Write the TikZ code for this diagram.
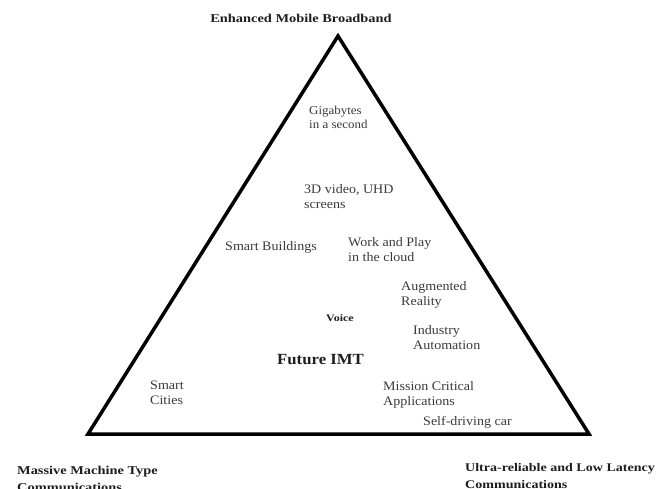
\documentclass[tikz,border=0pt]{standalone}
\usepackage{fontspec}
\setmainfont{Liberation Serif}[FakeStretch=1.08]
\newfontfamily\capfont{Liberation Serif}[FakeStretch=1.2]
\definecolor{txtgray}{HTML}{3A3A3A}
\definecolor{capink}{HTML}{1E1E1E}
\begin{document}
\begin{tikzpicture}[x=1pt,y=-1pt,
  lbl/.style={anchor=west,inner sep=0pt,align=left,text=txtgray,
              font=\fontsize{13}{15}\selectfont},
  cornerlbl/.style={anchor=west,inner sep=0pt,align=left,text=capink,
              font=\capfont\bfseries\fontsize{12}{17}\selectfont},
  triside/.style={line width=3.5pt,line join=miter,draw=black}
]
\useasboundingbox (0,0) rectangle (659,489);

% corners of the service triangle
\coordinate (apex) at (338,36);
\coordinate (bl) at (88,434);
\coordinate (br) at (589,434);
\draw[triside] (apex) -- (bl) -- (br) -- cycle;

% corner captions
\node[cornerlbl,anchor=center] (embb) at (301,18) {Enhanced Mobile Broadband};
\node[cornerlbl] (mmtc) at (17,478.5) {Massive Machine Type\\Communications};
\node[cornerlbl,font=\capfont\bfseries\fontsize{11.7}{17}\selectfont] (urllc) at (465,476.5) {Ultra-reliable and Low Latency\\Communications};

% use cases inside the triangle
\node[lbl,font=\fontsize{12}{13.5}\selectfont] (giga) at (309,117.5) {Gigabytes\\in a second};
\node[lbl] (video) at (304,196.5) {3D video, UHD\\screens};
\node[lbl] (build) at (225,247) {Smart Buildings};
\node[lbl] (cloud) at (348,249.5) {Work and Play\\in the cloud};
\node[lbl] (ar) at (401,294.5) {Augmented\\Reality};
\node[cornerlbl,font=\capfont\bfseries\fontsize{10}{11}\selectfont] (voice) at (326,318) {Voice};
\node[cornerlbl,font=\bfseries\fontsize{15.5}{18}\selectfont] (imt) at (277,360) {Future IMT};
\node[lbl] (ind) at (413,338) {Industry\\Automation};
\node[lbl] (mission) at (383,395) {Mission Critical\\Applications};
\node[lbl] (car) at (423,422) {Self-driving car};
\node[lbl] (cities) at (150,393) {Smart\\Cities};
\end{tikzpicture}
\end{document}
